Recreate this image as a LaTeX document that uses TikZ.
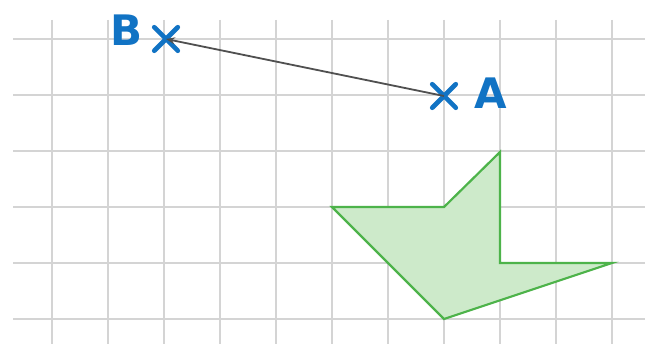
\documentclass[tikz,border=0pt]{standalone}
\usepackage{fontspec}
\setmainfont{DejaVu Sans}
\usetikzlibrary{shapes.misc,arrows.meta}
\definecolor{gridc}{HTML}{D4D4D4}
\definecolor{markc}{HTML}{1173C4}
\definecolor{shapeline}{HTML}{4DB34A}
\definecolor{shapefill}{HTML}{CDEACA}
\definecolor{arrowc}{HTML}{505050}
\tikzset{
  gridline/.style={draw=gridc, line width=1.4pt},
  markx/.style={cross out, draw=markc, line width=4.6pt, line cap=round, minimum size=19pt, inner sep=0pt},
  marklabel/.style={text=markc, font=\bfseries\fontsize{42}{42}\selectfont},
  shapeedge/.style={draw=shapeline, fill=shapefill, line width=2.2pt, line join=miter},
  vector/.style={draw=arrowc, line width=1.8pt, -{Stealth[length=9pt,width=7pt]}}
}
\begin{document}
\begin{tikzpicture}[x=1pt,y=-1pt]
\useasboundingbox (0,0) rectangle (653,344);
\fill[white] (0,0) rectangle (653,344);
% grid
\foreach \y in {39,95,151,207,263,319} \draw[gridline] (13,\y) -- (645,\y);
\foreach \x in {52,108,164,220,276,332,388,444,500,556,612} \draw[gridline] (\x,20) -- (\x,344);
% shape
\coordinate (p1) at (332,207);
\coordinate (p2) at (444,207);
\coordinate (p3) at (500,152);
\coordinate (p4) at (500,263);
\coordinate (p5) at (612,263);
\coordinate (p6) at (444,319);
\draw[shapeedge] (p1) -- (p2) -- (p3) -- (p4) -- (p5) -- (p6) -- cycle;
% points
\node[markx] (A) at (444,96) {};
\node[markx] (B) at (166,39) {};
\draw[vector] (A.center) -- (B.center);
\node[marklabel] (la) at (491,93) {A};
\node[marklabel] (lb) at (127,30) {B};
\end{tikzpicture}
\end{document}
